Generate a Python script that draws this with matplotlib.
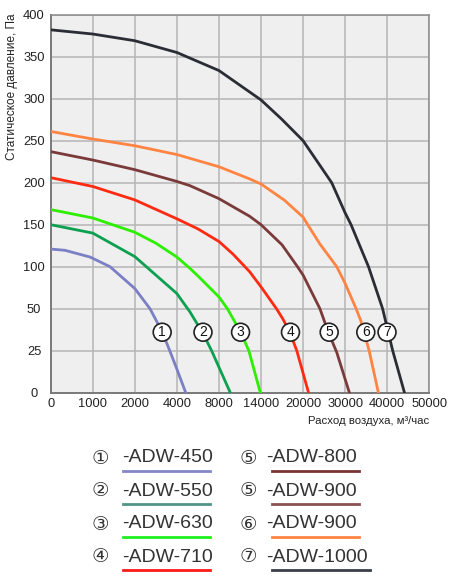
import numpy as np
import matplotlib
matplotlib.use("Agg")
import matplotlib.pyplot as plt
from matplotlib.lines import Line2D

plt.rcParams['font.family'] = ['Liberation Sans', 'DejaVu Sans']

# ---- axis tick values (non-uniform, equally spaced on the chart) ----
x_ticks = [0, 1000, 2000, 4000, 8000, 14000, 20000, 30000, 40000, 50000]
y_ticks = [0, 25, 50, 100, 150, 200, 250, 300, 350, 400]

# ---- curves ----
x1 = [0, 340, 936, 1410, 2000, 2720, 3290, 3660, 4000, 4840]
y1 = [121, 119.5, 111.5, 100, 74, 50, 36.5, 25, 14, 0]

x2 = [0, 1000, 2000, 3000, 4000, 5250, 6460, 7300, 9620]
y2 = [150, 140, 112, 90, 68, 48, 35.5, 25, 0]

x3 = [0, 1000, 2000, 3000, 4000, 5240, 6000, 8000, 9200, 11100, 12260, 13900]
y3 = [168, 158, 141, 128, 111.5, 98, 89, 64, 50, 36, 25, 0]

x4 = [0, 1000, 2000, 4000, 6000, 8000, 10000, 12380, 14000, 16200, 17100, 18100, 19100, 21300]
y4 = [206, 195.5, 179.5, 157, 145, 130, 115, 94, 76, 50, 44, 36, 25, 0]

x5 = [0, 1000, 2000, 4000, 5240, 8000, 12380, 14000, 17000, 19200, 20000, 24000, 26000, 28000, 31000]
y5 = [237, 227, 215.5, 201.5, 196.5, 181, 160, 150, 126, 100, 90, 50, 36, 24, 0]

x6 = [0, 1000, 2000, 4000, 8000, 12380, 14000, 17360, 20000, 21100, 24000, 28000, 30000, 32600, 33700, 35700, 37900]
y6 = [261, 252, 244, 233.5, 219, 204.5, 198.5, 179, 159, 150, 127, 100, 80, 50, 43, 25, 0]

x7 = [0, 1000, 2000, 4000, 8000, 14000, 16900, 20000, 26800, 30000, 31400, 34300, 35550, 38900, 41300, 44100]
y7 = [382, 377, 369, 355, 333.5, 298.5, 276, 250, 200, 164, 150, 115, 100, 50, 25, 0]

curve_x = [x1, x2, x3, x4, x5, x6, x7]
curve_y = [y1, y2, y3, y4, y5, y6, y7]
curve_colors = ['#7b7fc4', '#0ca050', '#2cf000', '#ff2a12', '#7b3a3a', '#ff8442', '#2a2d35']

# circled labels on the curves
label_text = ['1', '2', '3', '4', '5', '6', '7']
label_x = [3300, 6480, 11080, 18200, 26200, 34900, 39950]
label_y = [36, 36, 36, 36, 36, 36, 36]

# legend
legend_nums = ['①', '②', '③', '④', '⑤', '⑤', '⑥', '⑦']
legend_names = ['-ADW-450', '-ADW-550', '-ADW-630', '-ADW-710',
                '-ADW-800', '-ADW-900', '-ADW-900', '-ADW-1000']
legend_colors = ['#8486c8', '#4f9486', '#1ef01e', '#ff1a1a',
                 '#7a3434', '#8a5252', '#ff8442', '#3a3f46']

x_label = 'Расход воздуха, м³/час'
y_label = 'Статическое давление, Па'

W, H = 452, 581
fig = plt.figure(figsize=(W / 100, H / 100), dpi=100)
L, R, T, B = 50.7, 429.3, 14.7, 392.7
ax = fig.add_axes([L / W, 1 - B / H, (R - L) / W, (B - T) / H])

xi = np.arange(len(x_ticks), dtype=float)
yi = np.arange(len(y_ticks), dtype=float)
ax.set_xscale('function', functions=(lambda v: np.interp(v, x_ticks, xi),
                                     lambda v: np.interp(v, xi, x_ticks)))
ax.set_yscale('function', functions=(lambda v: np.interp(v, y_ticks, yi),
                                     lambda v: np.interp(v, yi, y_ticks)))
ax.set_xlim(0, 50000)
ax.set_ylim(0, 400)
ax.set_xticks(x_ticks)
ax.set_xticklabels([str(v) for v in x_ticks])
ax.set_yticks(y_ticks)
ax.set_yticklabels([str(v) for v in y_ticks])
ax.minorticks_off()
ax.tick_params(length=0, labelsize=9.3, labelcolor='#222222')
ax.tick_params(axis='y', pad=12)
ax.tick_params(axis='x', pad=4)
for lab in ax.get_yticklabels():
    lab.set_horizontalalignment('center')

ax.set_facecolor('#efefef')
ax.grid(True, color='#b5b5b5', lw=1.1)
ax.set_axisbelow(True)
for s in ['left', 'bottom']:
    ax.spines[s].set_color('#7a7a7a')
    ax.spines[s].set_linewidth(1.4)
for s in ['top', 'right']:
    ax.spines[s].set_color('#8a8a8a')
    ax.spines[s].set_linewidth(1.1)

for xs, ys, c in zip(curve_x, curve_y, curve_colors):
    ax.plot(xs, ys, color=c, lw=2.0, solid_joinstyle='round', zorder=3)

for t, lx, ly in zip(label_text, label_x, label_y):
    ax.text(lx, ly, t, fontsize=10, ha='center', va='center', color='#111111', zorder=5,
            bbox=dict(boxstyle='circle,pad=0.14', fc='white', ec='#222222', lw=1.2))

fig.text(12 / W, 1 - 13.5 / H, y_label, rotation=90, ha='center', va='top',
         fontsize=8.5, color='#222222')
fig.text(R / W, 1 - 420.5 / H, x_label, ha='right', va='center',
         fontsize=8.2, color='#222222')

# legend
row_y = [458, 491, 524, 557]
line_y = [471, 503.5, 536.5, 570]
col_num_x = [100, 248]
col_text_x = [122, 266]
fig.canvas.draw()
renderer = fig.canvas.get_renderer()
for i, (num, name, col) in enumerate(zip(legend_nums, legend_names, legend_colors)):
    c = i // 4
    r = i % 4
    fig.text(col_num_x[c] / W, 1 - row_y[r] / H, num, ha='center', va='center',
             fontsize=14, color='#333333', family=['DejaVu Sans', 'Noto Sans CJK SC'])
    t = fig.text(col_text_x[c] / W, 1 - row_y[r] / H, name, ha='left', va='center',
                 fontsize=14, color='#333333')
    bb = t.get_window_extent(renderer)
    x0 = bb.x0 + (1 if c == 0 else 6)
    x1_ = bb.x1 - (3 if c == 0 else -2)
    fig.add_artist(Line2D([x0 / W, x1_ / W], [1 - line_y[r] / H, 1 - line_y[r] / H],
                          transform=fig.transFigure, color=col, lw=2.0))

fig.savefig('out.png', dpi=100)
